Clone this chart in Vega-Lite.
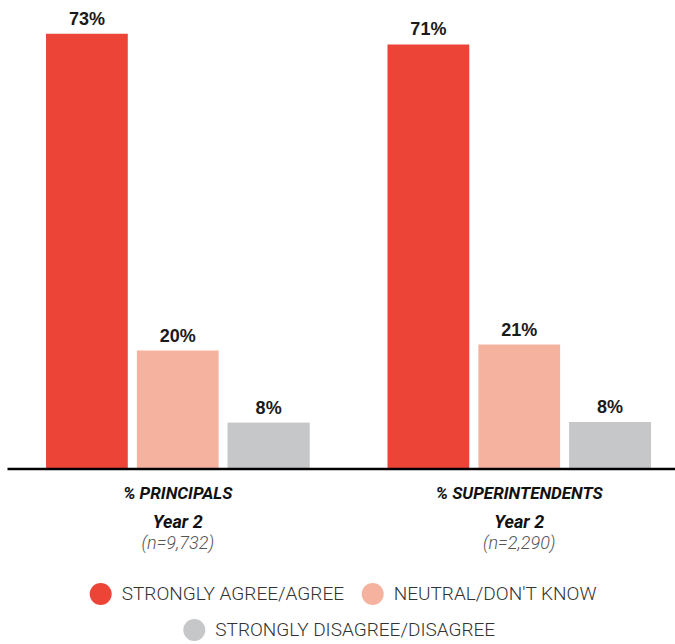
{
  "$schema": "https://vega.github.io/schema/vega-lite/v6.json",
  "width": 668,
  "height": 468.5,
  "autosize": {"type": "none"},
  "padding": {"left": 7, "top": 0, "right": 0, "bottom": 175.5},
  "config": {"view": {"stroke": null}, "font": "Roboto"},
  "datasets": {
    "bars": [
      {"group": "% PRINCIPALS", "category": "STRONGLY AGREE/AGREE", "value": 73, "label": "73%"},
      {"group": "% PRINCIPALS", "category": "NEUTRAL/DON'T KNOW", "value": 19.8, "label": "20%"},
      {"group": "% PRINCIPALS", "category": "STRONGLY DISAGREE/DISAGREE", "value": 7.7, "label": "8%"},
      {"group": "% SUPERINTENDENTS", "category": "STRONGLY AGREE/AGREE", "value": 71.2, "label": "71%"},
      {"group": "% SUPERINTENDENTS", "category": "NEUTRAL/DON'T KNOW", "value": 20.8, "label": "21%"},
      {"group": "% SUPERINTENDENTS", "category": "STRONGLY DISAGREE/DISAGREE", "value": 7.8, "label": "8%"}
    ],
    "groups": [
      {"group": "% PRINCIPALS", "year": "Year 2", "n": "(n=9,732)"},
      {"group": "% SUPERINTENDENTS", "year": "Year 2", "n": "(n=2,290)"}
    ]
  },
  "layer": [
    {
      "data": {"name": "bars"},
      "mark": {"type": "bar"},
      "encoding": {
        "x": {
          "field": "group", "type": "nominal", "sort": null,
          "scale": {"paddingInner": 0.2284, "paddingOuter": 0.0923, "align": 0.619},
          "axis": {
            "title": null, "labelAngle": 0, "ticks": false,
            "domainColor": "#000000", "domainWidth": 2.5,
            "labelFont": "Roboto", "labelFontSize": 17, "labelFontStyle": "italic",
            "labelFontWeight": "bold", "labelColor": "#111111", "labelPadding": 17,
            "labelLimit": 400, "zindex": 1
          }
        },
        "xOffset": {"field": "category", "type": "nominal", "sort": null, "scale": {"paddingInner": 0.1, "paddingOuter": 0}},
        "y": {"field": "value", "type": "quantitative", "scale": {"domain": [0, 78.66], "nice": false}, "axis": null},
        "fill": {
          "field": "category", "type": "nominal", "sort": null,
          "scale": {
            "domain": ["STRONGLY AGREE/AGREE", "NEUTRAL/DON'T KNOW", "STRONGLY DISAGREE/DISAGREE"],
            "range": ["#EC4537", "#F5B39F", "#C6C7C9"]
          },
          "legend": {
            "values": ["STRONGLY AGREE/AGREE", "NEUTRAL/DON'T KNOW"],
            "orient": "none", "legendX": 82.7, "legendY": 583, "direction": "horizontal",
            "title": null, "symbolType": "circle", "symbolSize": 484, "symbolStrokeWidth": 0,
            "labelFont": "Roboto", "labelFontSize": 19, "labelFontWeight": 300,
            "labelColor": "#333333", "labelLimit": 400, "labelOffset": 10, "columnPadding": 17
          }
        }
      }
    },
    {
      "data": {"name": "bars"},
      "transform": [{"filter": "datum.category === 'STRONGLY DISAGREE/DISAGREE'"}],
      "mark": {"type": "bar", "fill": "#C6C7C9", "strokeWidth": 0},
      "encoding": {
        "x": {"field": "group", "type": "nominal", "sort": null},
        "xOffset": {"field": "category", "type": "nominal", "sort": null},
        "y": {"field": "value", "type": "quantitative", "axis": null},
        "stroke": {
          "field": "category", "type": "nominal",
          "scale": {"domain": ["STRONGLY DISAGREE/DISAGREE"], "range": ["#C6C7C9"]},
          "legend": {
            "orient": "none", "legendX": 176.3, "legendY": 619, "direction": "horizontal",
            "title": null, "symbolType": "circle", "symbolSize": 484, "symbolStrokeWidth": 0,
            "symbolFillColor": "#C6C7C9",
            "labelFont": "Roboto", "labelFontSize": 19, "labelFontWeight": 300,
            "labelColor": "#333333", "labelLimit": 400, "labelOffset": 10
          }
        }
      }
    },
    {
      "data": {"name": "bars"},
      "mark": {"type": "text", "font": "Liberation Sans", "fontSize": 18, "fontWeight": "bold", "color": "#1a1a1a", "baseline": "alphabetic", "dy": -9},
      "encoding": {
        "x": {"field": "group", "type": "nominal", "sort": null},
        "xOffset": {"field": "category", "type": "nominal", "sort": null},
        "y": {"field": "value", "type": "quantitative", "axis": null},
        "text": {"field": "label"}
      }
    },
    {
      "data": {"name": "groups"},
      "mark": {"type": "text", "font": "Roboto", "fontSize": 18, "fontWeight": "bold", "fontStyle": "italic", "color": "#111111", "baseline": "alphabetic", "dy": 59.5},
      "encoding": {
        "x": {"field": "group", "type": "nominal", "sort": null},
        "y": {"datum": 0, "type": "quantitative"},
        "text": {"field": "year"}
      }
    },
    {
      "data": {"name": "groups"},
      "mark": {"type": "text", "font": "Roboto", "fontSize": 18, "fontWeight": 300, "fontStyle": "italic", "color": "#555555", "baseline": "alphabetic", "dy": 80.5},
      "encoding": {
        "x": {"field": "group", "type": "nominal", "sort": null},
        "y": {"datum": 0, "type": "quantitative"},
        "text": {"field": "n"}
      }
    }
  ]
}
